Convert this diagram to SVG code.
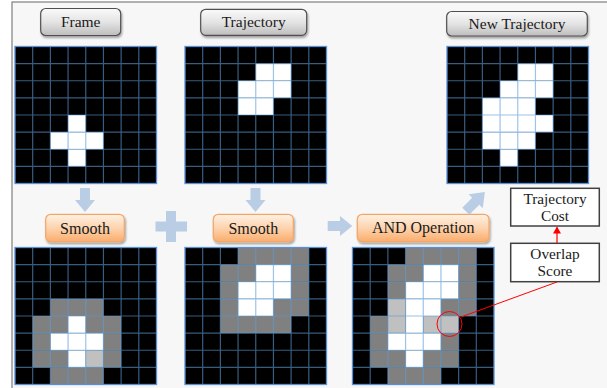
<svg xmlns="http://www.w3.org/2000/svg" xmlns:xlink="http://www.w3.org/1999/xlink" width="607" height="388" viewBox="0 0 607 388">
<style>
.w{fill:#fff}.g{fill:#808080}.l{fill:#c0c0c0}
.btn{fill:url(#gg);stroke:#505050;stroke-width:1.2;filter:url(#sh)}
.obtn{fill:url(#og);stroke:#f2a66a;stroke-width:1.2;filter:url(#sh)}
.t{font-family:"Liberation Serif","Times New Roman",serif;fill:#1a1a1a;text-anchor:middle}
.bt{font-size:15.5px}.ot{font-size:16px}.xt{font-size:15.3px}
.box{fill:#fff;stroke:#404040;stroke-width:1.5}
.ba{fill:#b9cde5}
.gl{fill:none;stroke:#5b9bd5;stroke-width:1.2;stroke-opacity:0.6}
.gb{fill:none;stroke:#5b8fd8;stroke-width:1.3}
</style>
<defs>
<linearGradient id="gg" x1="0" y1="0" x2="0" y2="1"><stop offset="0" stop-color="#fafafa"/><stop offset="0.5" stop-color="#e4e4e4"/><stop offset="1" stop-color="#bdbdbd"/></linearGradient>
<linearGradient id="og" x1="0" y1="0" x2="0" y2="1"><stop offset="0" stop-color="#fff1e4"/><stop offset="0.5" stop-color="#fdd3ae"/><stop offset="1" stop-color="#f9ad6c"/></linearGradient>
<filter id="sh" x="-10%" y="-20%" width="120%" height="150%"><feDropShadow dx="1" dy="2" stdDeviation="1.3" flood-color="#000" flood-opacity="0.35"/></filter>
<marker id="ra" markerWidth="8" markerHeight="8" refX="6" refY="4" orient="auto" markerUnits="userSpaceOnUse"><path d="M0 0L7 4L0 8Z" fill="#f00"/></marker>
<g id="lines">
<path class="gl" d="M17.69 0V137M35.38 0V137M53.06 0V137M70.75 0V137M88.44 0V137M106.13 0V137M123.81 0V137M0 17.13H141.5M0 34.25H141.5M0 51.38H141.5M0 68.5H141.5M0 85.63H141.5M0 102.75H141.5M0 119.88H141.5"/>
<rect class="gb" width="141.5" height="137"/>
</g>
</defs>
<rect width="607" height="388" fill="#fff"/>
<rect x="12" y="2" width="600" height="390" fill="#f7f7f7" stroke="#7f7f7f" stroke-width="1.2"/>

<g id="frame-label"><rect class="btn" x="40.7" y="8.5" width="80" height="27" rx="5"/><text class="t bt" x="80.7" y="27">Frame</text></g>
<g id="trajectory-label"><rect class="btn" x="200.7" y="9.3" width="106" height="26" rx="5"/><text class="t bt" x="253.7" y="27.3">Trajectory</text></g>
<g id="new-trajectory-label"><rect class="btn" x="446.7" y="11.5" width="140.6" height="24.5" rx="5"/><text class="t bt" x="517" y="28.5">New Trajectory</text></g>

<g id="frame-grid" transform="translate(15 46.5)">
<rect width="141.5" height="137" fill="#000"/>
<g transform="scale(17.6875 17.125)"><rect class="w" x="3" y="4" width="1" height="1"/><rect class="w" x="2" y="5" width="3" height="1"/><rect class="w" x="3" y="6" width="1" height="1"/></g>
<use xlink:href="#lines"/>
</g>
<g id="trajectory-grid" transform="translate(185 46.5)">
<rect width="141.5" height="137" fill="#000"/>
<g transform="scale(17.6875 17.125)"><rect class="w" x="4" y="1" width="2" height="1"/><rect class="w" x="3" y="2" width="3" height="1"/><rect class="w" x="3" y="3" width="2" height="1"/></g>
<use xlink:href="#lines"/>
</g>
<g id="new-trajectory-grid" transform="translate(447 46.5)">
<rect width="141.5" height="137" fill="#000"/>
<g transform="scale(17.6875 17.125)"><rect class="w" x="4" y="1" width="2" height="1"/><rect class="w" x="3" y="2" width="3" height="1"/><rect class="w" x="2" y="3" width="3" height="1"/><rect class="w" x="2" y="4" width="4" height="1"/><rect class="w" x="2" y="5" width="3" height="1"/><rect class="w" x="3" y="6" width="1" height="1"/></g>
<use xlink:href="#lines"/>
</g>

<g id="smooth-1"><rect class="obtn" x="45.7" y="214.3" width="78.6" height="27.4" rx="5"/><text class="t ot" x="85" y="233.5">Smooth</text></g>
<g id="smooth-2"><rect class="obtn" x="213.3" y="214.3" width="80" height="27.4" rx="5"/><text class="t ot" x="253.3" y="233.5">Smooth</text></g>
<g id="and-operation"><rect class="obtn" x="357.3" y="214.3" width="131.7" height="27.4" rx="5"/><text class="t ot" x="423.2" y="233.3">AND Operation</text></g>

<g id="frame-smooth-grid" transform="translate(15 247.5)">
<rect width="141.5" height="137" fill="#000"/>
<g transform="scale(17.6875 17.125)">
<rect class="g" x="2" y="3" width="3" height="1"/><rect class="g" x="1" y="4" width="2" height="1"/><rect class="g" x="4" y="4" width="2" height="1"/><rect class="g" x="1" y="5" width="1" height="1"/><rect class="g" x="5" y="5" width="1" height="1"/><rect class="g" x="1" y="6" width="2" height="1"/><rect class="g" x="5" y="6" width="1" height="1"/><rect class="g" x="2" y="7" width="3" height="1"/>
<rect class="l" x="4" y="6" width="1" height="1"/>
<rect class="w" x="3" y="4" width="1" height="1"/><rect class="w" x="2" y="5" width="3" height="1"/><rect class="w" x="3" y="6" width="1" height="1"/>
</g>
<use xlink:href="#lines"/>
</g>
<g id="trajectory-smooth-grid" transform="translate(185 247.5)">
<rect width="141.5" height="137" fill="#000"/>
<g transform="scale(17.6875 17.125)">
<rect class="g" x="3" y="0" width="4" height="1"/><rect class="g" x="2" y="1" width="2" height="1"/><rect class="g" x="6" y="1" width="1" height="1"/><rect class="g" x="2" y="2" width="1" height="1"/><rect class="g" x="6" y="2" width="1" height="1"/><rect class="g" x="2" y="3" width="1" height="1"/><rect class="g" x="5" y="3" width="2" height="1"/><rect class="g" x="2" y="4" width="4" height="1"/>
<rect class="w" x="4" y="1" width="2" height="1"/><rect class="w" x="3" y="2" width="3" height="1"/><rect class="w" x="3" y="3" width="2" height="1"/>
</g>
<use xlink:href="#lines"/>
</g>
<g id="and-grid" transform="translate(352.5 247.5)">
<rect width="141.5" height="137" fill="#000"/>
<g transform="scale(17.6875 17.125)">
<rect class="g" x="3" y="0" width="4" height="1"/><rect class="g" x="2" y="1" width="2" height="1"/><rect class="g" x="6" y="1" width="1" height="1"/><rect class="g" x="2" y="2" width="1" height="1"/><rect class="g" x="6" y="2" width="1" height="1"/><rect class="g" x="5" y="3" width="2" height="1"/><rect class="g" x="1" y="4" width="1" height="1"/><rect class="g" x="1" y="5" width="1" height="1"/><rect class="g" x="5" y="5" width="1" height="1"/><rect class="g" x="1" y="6" width="2" height="1"/><rect class="g" x="4" y="6" width="2" height="1"/><rect class="g" x="2" y="7" width="3" height="1"/>
<rect class="l" x="2" y="3" width="1" height="2"/><rect class="l" x="4" y="4" width="2" height="1"/>
<rect class="w" x="4" y="1" width="2" height="1"/><rect class="w" x="3" y="2" width="3" height="1"/><rect class="w" x="3" y="3" width="2" height="1"/><rect class="w" x="3" y="4" width="1" height="1"/><rect class="w" x="2" y="5" width="3" height="1"/><rect class="w" x="3" y="6" width="1" height="1"/>
</g>
<use xlink:href="#lines"/>
</g>

<g id="trajectory-cost"><rect class="box" x="510.7" y="188.3" width="88.6" height="37.7"/><text class="t xt" x="555" y="203.5">Trajectory</text><text class="t xt" x="555" y="220.7">Cost</text></g>
<g id="overlap-score"><rect class="box" x="510.7" y="243.3" width="88.6" height="38.4"/><text class="t xt" x="555" y="258.5">Overlap</text><text class="t xt" x="555" y="276">Score</text></g>

<g id="connectors">
<polygon class="ba" points="80,188 90,188 90,200 95,200 85,212 75,200 80,200"/>
<polygon class="ba" points="250.5,188 260.5,188 260.5,200 265.5,200 255.5,212 245.5,200 250.5,200"/>
<polygon class="ba" points="166,211 176,211 176,221.5 187,221.5 187,231.5 176,231.5 176,242 166,242 166,231.5 155.5,231.5 155.5,221.5 166,221.5"/>
<polygon class="ba" points="327.7,221 340,221 340,216 352.3,226 340,236 340,231 327.7,231"/>
<polygon class="ba" transform="translate(475 202) rotate(-45)" points="-13,-5 1,-5 1,-10 14,0 1,10 1,5 -13,5"/>
<circle cx="449.5" cy="324" r="12.5" fill="none" stroke="#f00" stroke-width="1"/>
<line x1="461" y1="317" x2="557" y2="282" stroke="#f00" stroke-width="1"/>
<line x1="557" y1="243" x2="557" y2="227.5" stroke="#f00" stroke-width="1.2" marker-end="url(#ra)"/>
</g>
</svg>
